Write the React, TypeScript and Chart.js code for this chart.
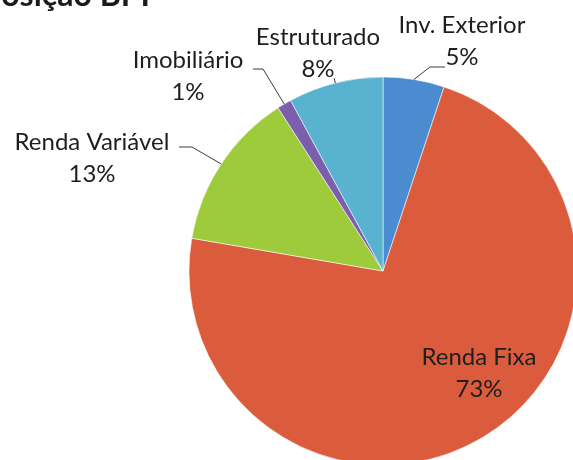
import React, { useEffect, useRef } from "react";
import { Chart, registerables } from "chart.js";

Chart.register(...registerables);

// ---- data ----
const categories = ["Inv. Exterior", "Renda Fixa", "Renda Variável", "Imobiliário", "Estruturado"];
const shares = [5.1, 72.6, 13.2, 1.2, 7.9];
const sliceColors = ["#4b8bd0", "#db5c3d", "#9dcb3c", "#7b5eac", "#59b3d0"];
const headerText = "Composição BPI";

// ---- label layout: offsets from the pie centre (px) ----
type Lay = { dx: number; dy: number; elbow?: [number, number]; end?: [number, number]; tick?: number };
const labelLayout: Lay[] = [
  { dx: 79, dy: -238, elbow: [47, -204], end: [62, -204] },
  { dx: 96, dy: 94 },
  { dx: -291, dy: -121, elbow: [-191, -124], end: [-204, -124] },
  { dx: -195, dy: -203, elbow: [-120, -202], end: [-130, -202] },
  { dx: -65, dy: -226, tick: 5 },
];

const FONT = "24px Lato, 'Open Sans', sans-serif";
const LINE_GAP = 32;

const labelPlugin = {
  id: "pieLabels",
  afterDraw(chart: any) {
    const ctx = chart.ctx as CanvasRenderingContext2D;
    const meta = chart.getDatasetMeta(0);
    const total = shares.reduce((a, b) => a + b, 0);
    ctx.save();
    // header (cut off at the top of the page)
    ctx.fillStyle = "#1b1b1b";
    ctx.font = "bold 32px Lato, sans-serif";
    ctx.textAlign = "right";
    ctx.textBaseline = "alphabetic";
    ctx.fillText(headerText, 150, 6);

    meta.data.forEach((arc: any, i: number) => {
      const p = arc.getProps(["x", "y", "startAngle", "endAngle", "outerRadius"], true);
      const cx = p.x, cy = p.y;
      const mid = (p.startAngle + p.endAngle) / 2;
      const lay = labelLayout[i];
      const ex = cx + Math.cos(mid) * p.outerRadius;
      const ey = cy + Math.sin(mid) * p.outerRadius;
      ctx.strokeStyle = "#3c3c3c";
      ctx.lineWidth = 1;
      if (lay.elbow && lay.end) {
        ctx.beginPath();
        ctx.moveTo(ex, ey);
        ctx.lineTo(cx + lay.elbow[0], cy + lay.elbow[1]);
        ctx.lineTo(cx + lay.end[0], cy + lay.end[1]);
        ctx.stroke();
      } else if (lay.tick) {
        ctx.beginPath();
        ctx.moveTo(ex, ey);
        ctx.lineTo(ex + Math.cos(mid) * lay.tick, ey + Math.sin(mid) * lay.tick);
        ctx.stroke();
      }
      ctx.fillStyle = "#1e1e1e";
      ctx.font = FONT;
      ctx.textAlign = "center";
      ctx.textBaseline = "alphabetic";
      const pct = Math.round((shares[i] / total) * 100) + "%";
      ctx.fillText(categories[i], cx + lay.dx, cy + lay.dy);
      ctx.fillText(pct, cx + lay.dx, cy + lay.dy + LINE_GAP);
    });
    ctx.restore();
  },
};

export default function App() {
  const ref = useRef<HTMLCanvasElement | null>(null);
  useEffect(() => {
    if (!ref.current) return;
    const chart = new Chart(ref.current, {
      type: "pie",
      data: {
        labels: categories,
        datasets: [
          {
            data: shares,
            backgroundColor: sliceColors,
            borderColor: "rgba(255,255,255,0.55)",
            borderWidth: 1,
          },
        ],
      },
      options: {
        responsive: false,
        animation: false,
        radius: 194,
        layout: { padding: { left: 193, right: 0, top: 82, bottom: 0 } },
        plugins: {
          legend: { display: false },
          tooltip: { enabled: false },
          title: { display: false },
        },
      } as any,
      plugins: [labelPlugin],
    });
    return () => chart.destroy();
  }, []);
  return (
    <div style={{ position: "fixed", left: 0, top: 0, width: 573, height: 460, background: "#ffffff", overflow: "hidden" }}>
      <canvas ref={ref} width={573} height={460} style={{ display: "block" }} />
    </div>
  );
}
